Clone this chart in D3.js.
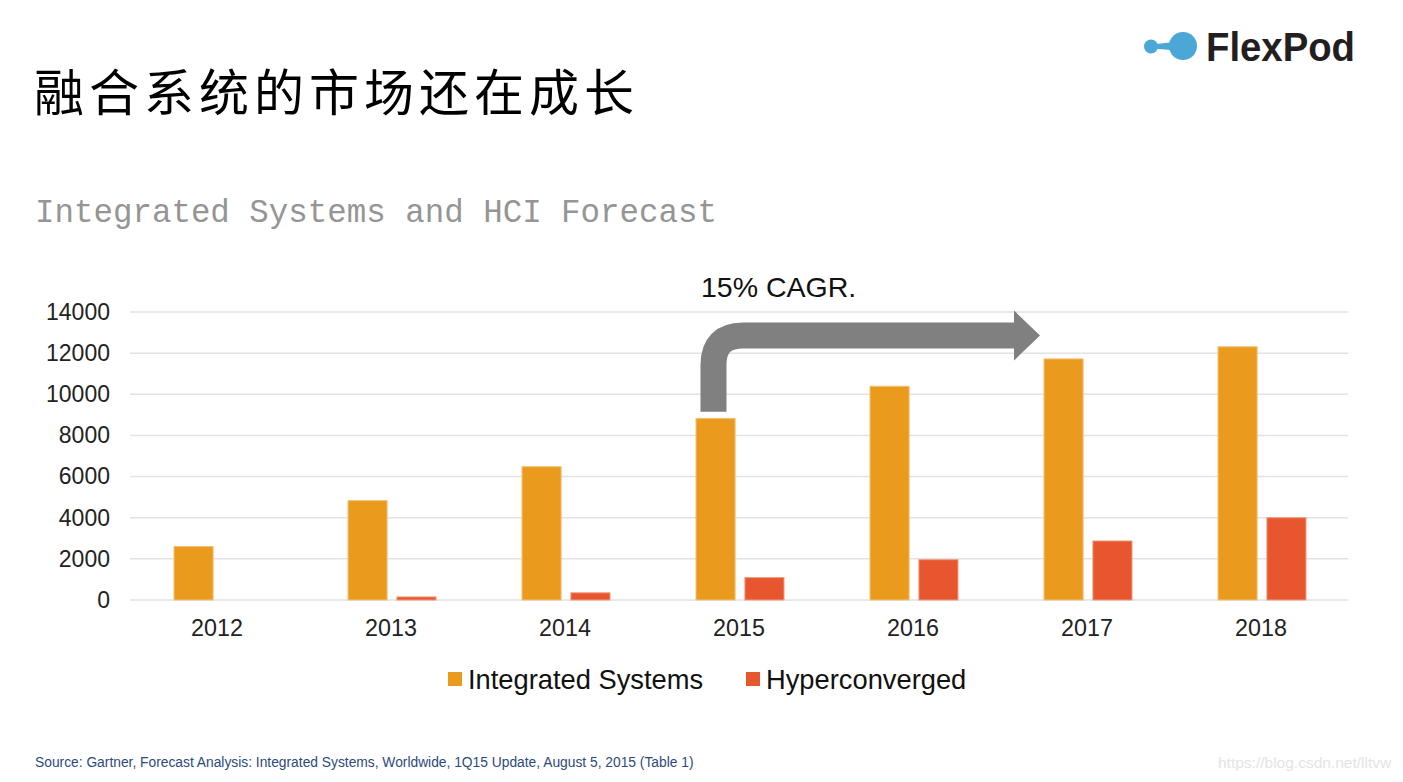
<!DOCTYPE html>
<html><head><meta charset="utf-8">
<script src="https://cdn.jsdelivr.net/npm/d3@7"></script>
<style>
html,body{margin:0;padding:0;background:#fff;}
svg{display:block;}
</style></head>
<body>
<svg id="chart" width="1403" height="782"></svg>
<script>
const years = ["2012","2013","2014","2015","2016","2017","2018"];
const integratedSystems = [2600, 4830, 6480, 8830, 10390, 11720, 12310];
const hyperconverged = [0, 150, 350, 1090, 1960, 2870, 4000];
const yTicks = [0, 2000, 4000, 6000, 8000, 10000, 12000, 14000];
const seriesNames = ["Integrated Systems", "Hyperconverged"];
const seriesColors = ["#EA9A1C", "#E8562F"];

(function () {
const svg = d3.select("#chart");
const plotLeft = 130, plotRight = 1348, plotTop = 312, plotBottom = 600;

const x = d3.scaleBand().domain(years).range([plotLeft, plotRight]).paddingInner(0).paddingOuter(0);
const y = d3.scaleLinear().domain([0, 14000]).range([plotBottom, plotTop]);
const sub = d3.scaleBand().domain(seriesNames).range([44, 132]).paddingInner(0.2);

// title
svg.append("text").attr("x", 34).attr("y", 111)
  .attr("font-family", "'Noto Sans CJK SC', sans-serif").attr("font-size", 50)
  .attr("font-weight", 400).attr("letter-spacing", 5).attr("fill", "#000")
  .text("融合系统的市场还在成长");

// subtitle
svg.append("text").attr("x", 35).attr("y", 222)
  .attr("font-family", "'Liberation Mono', monospace").attr("font-size", 34)
  .attr("fill", "#959595").attr("textLength", 682).attr("lengthAdjust", "spacingAndGlyphs")
  .text("Integrated Systems and HCI Forecast");

// logo
const logo = svg.append("g");
logo.append("path").attr("d", "M1152,44.5 L1183,41 L1183,51 L1152,48.5 Z").attr("fill", "#4BA8D6");
logo.append("circle").attr("cx", 1151).attr("cy", 46.5).attr("r", 7).attr("fill", "#4BA8D6");
logo.append("circle").attr("cx", 1183).attr("cy", 46).attr("r", 14).attr("fill", "#4BA8D6");
logo.append("text").attr("x", 1206).attr("y", 61).attr("font-family", "'Liberation Sans', Arial, sans-serif")
  .attr("font-size", 40).attr("font-weight", 700).attr("fill", "#231F20")
  .attr("textLength", 149).attr("lengthAdjust", "spacingAndGlyphs").text("FlexPod");

// gridlines
svg.append("g").selectAll("line").data(yTicks).join("line")
  .attr("x1", plotLeft).attr("x2", plotRight).attr("y1", d => y(d)).attr("y2", d => y(d))
  .attr("stroke", "#e2e2e2").attr("stroke-width", 1.5);

// y axis
const yAxis = svg.append("g").attr("transform", `translate(${plotLeft},0)`)
  .call(d3.axisLeft(y).tickValues(yTicks).tickSize(0).tickPadding(20).tickFormat(d3.format("d")));
yAxis.select(".domain").remove();
yAxis.selectAll("text").attr("font-family", "'Liberation Sans', Arial, sans-serif")
  .attr("font-size", 23).attr("fill", "#222");

// x axis
const xAxis = svg.append("g").attr("transform", `translate(0,${plotBottom})`)
  .call(d3.axisBottom(x).tickSize(0).tickPadding(19));
xAxis.select(".domain").remove();
xAxis.selectAll("text").attr("font-family", "'Liberation Sans', Arial, sans-serif")
  .attr("font-size", 23.3).attr("fill", "#222");

// bars
const data = years.map((yr, i) => ({ year: yr, values: [integratedSystems[i], hyperconverged[i]] }));
const groups = svg.append("g").selectAll("g").data(data).join("g")
  .attr("transform", d => `translate(${x(d.year)},0)`);
groups.selectAll("rect").data(d => d.values.map((v, j) => ({ v, j }))).join("rect")
  .attr("x", d => sub(seriesNames[d.j]))
  .attr("width", sub.bandwidth())
  .attr("y", d => y(d.v))
  .attr("height", d => plotBottom - y(d.v))
  .attr("fill", d => seriesColors[d.j])
  .attr("stroke", d => d.v > 0 ? (d.j === 0 ? "#F2C27A" : "#F09A80") : "none")
  .attr("stroke-width", 1);

// CAGR arrow
const ax = x("2015") + sub(seriesNames[0]) + 5 + 12.5;
const yStart = y(integratedSystems[3]) - 6.5;
const hy = 335.5, r = 29.5, xEnd = 1015;
svg.append("path")
  .attr("d", `M${ax},${yStart} L${ax},${hy + r} Q${ax},${hy} ${ax + r},${hy} L${xEnd},${hy}`)
  .attr("fill", "none").attr("stroke", "#808080").attr("stroke-width", 26).attr("stroke-linecap", "butt");
svg.append("path").attr("d", `M${xEnd - 1},${hy - 25} L${xEnd + 25},${hy} L${xEnd - 1},${hy + 25} Z`).attr("fill", "#808080");
svg.append("text").attr("x", 701).attr("y", 297)
  .attr("font-family", "'Liberation Sans', Arial, sans-serif").attr("font-size", 28.5).attr("fill", "#111")
  .text("15% CAGR.");

// legend
const legendX = [448, 746];
const lg = svg.append("g").selectAll("g").data(seriesNames).join("g")
  .attr("transform", (d, i) => `translate(${legendX[i]},672)`);
lg.append("rect").attr("width", 14).attr("height", 14).attr("fill", (d, i) => seriesColors[i]);
lg.append("text").attr("x", 20).attr("y", 17)
  .attr("font-family", "'Liberation Sans', Arial, sans-serif").attr("font-size", 27.3).attr("fill", "#111")
  .text(d => d);

// source
svg.append("text").attr("x", 35).attr("y", 767)
  .attr("font-family", "'Liberation Sans', Arial, sans-serif").attr("font-size", 13.8).attr("fill", "#2C4A7C")
  .text("Source: Gartner, Forecast Analysis: Integrated Systems, Worldwide, 1Q15 Update, August 5, 2015 (Table 1)");

// watermark
svg.append("text").attr("x", 1218).attr("y", 768)
  .attr("font-family", "'Liberation Sans', Arial, sans-serif").attr("font-size", 15.5).attr("fill", "#e4e4e4")
  .text("https://blog.csdn.net/lltvw");
})();
</script>
</body></html>
